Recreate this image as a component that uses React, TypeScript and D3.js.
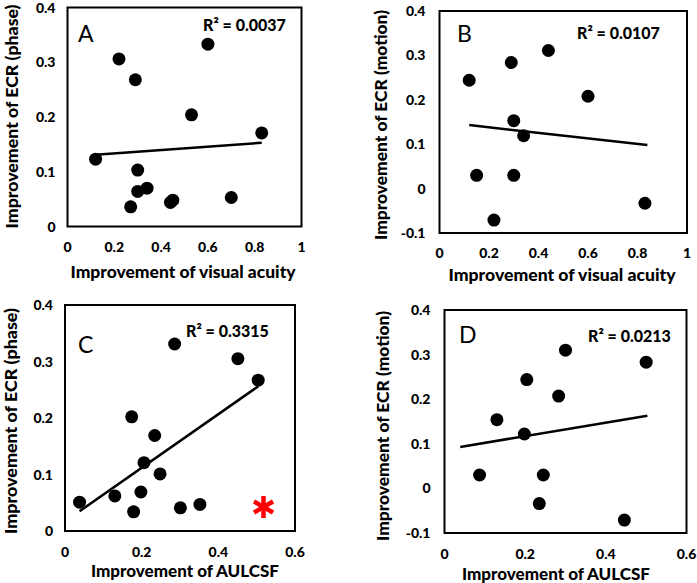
import React from "react";
import * as d3 from "d3";

// ---------- data ----------
const aX = [0.12, 0.22, 0.29, 0.27, 0.3, 0.3, 0.34, 0.44, 0.45, 0.53, 0.6, 0.7, 0.83];
const aY = [0.123, 0.306, 0.268, 0.036, 0.103, 0.064, 0.07, 0.044, 0.048, 0.204, 0.333, 0.053, 0.171];
const aLine = [0.12, 0.131, 0.83, 0.153];

const bX = [0.12, 0.15, 0.22, 0.29, 0.3, 0.3, 0.34, 0.44, 0.6, 0.83];
const bY = [0.244, 0.03, -0.071, 0.284, 0.153, 0.03, 0.119, 0.311, 0.208, -0.033];
const bLine = [0.12, 0.143, 0.84, 0.098];

const cX = [0.038, 0.13, 0.174, 0.179, 0.198, 0.206, 0.234, 0.248, 0.286, 0.301, 0.352, 0.451, 0.504];
const cY = [0.051, 0.062, 0.202, 0.034, 0.069, 0.121, 0.169, 0.101, 0.331, 0.041, 0.047, 0.305, 0.267];
const cLine = [0.038, 0.035, 0.504, 0.256];

const dX = [0.087, 0.13, 0.198, 0.204, 0.235, 0.245, 0.283, 0.3, 0.446, 0.5];
const dY = [0.03, 0.154, 0.122, 0.244, -0.034, 0.03, 0.207, 0.31, -0.071, 0.283];
const dLine = [0.039, 0.093, 0.503, 0.163];

const ticksVA = [0, 0.2, 0.4, 0.6, 0.8, 1];
const ticksVALabels = ["0", "0.2", "0.4", "0.6", "0.8", "1"];
const ticksAU = [0, 0.2, 0.4, 0.6];
const ticksAULabels = ["0", "0.2", "0.4", "0.6"];
const ticksPhase = [0, 0.1, 0.2, 0.3, 0.4];
const ticksPhaseLabels = ["0", "0.1", "0.2", "0.3", "0.4"];
const ticksMotion = [-0.1, 0, 0.1, 0.2, 0.3, 0.4];
const ticksMotionLabels = ["-0.1", "0", "0.1", "0.2", "0.3", "0.4"];

const FONT = "Lato, 'Open Sans', sans-serif";

type PanelProps = {
  box: [number, number, number, number]; // left, top, right, bottom
  xDom: [number, number];
  yDom: [number, number];
  xs: number[];
  ys: number[];
  line: number[];
  xt: number[];
  xtl: string[];
  yt: number[];
  ytl: string[];
  letter: string;
  letterPos: [number, number];
  r2: string;
  r2Pos: [number, number];
  xTitle: string;
  xTitlePos: [number, number, number];
  yTitle: string;
  yTitlePos: [number, number, number];
  xTickY: number;
  yTickGap: number;
  star?: [number, number];
};

function Panel(p: PanelProps) {
  const [l, t, r, b] = p.box;
  const x = d3.scaleLinear().domain(p.xDom).range([l, r]);
  const y = d3.scaleLinear().domain(p.yDom).range([b, t]);
  const lineGen = d3.line<[number, number]>().x((d) => x(d[0])).y((d) => y(d[1]));
  const pts: [number, number][] = [
    [p.line[0], p.line[1]],
    [p.line[2], p.line[3]],
  ];
  return (
    <g>
      <rect x={l} y={t} width={r - l} height={b - t} fill="none" stroke="#000" strokeWidth={2} />
      {p.xt.map((v, i) => (
        <text key={"xt" + i} x={x(v)} y={p.xTickY} textAnchor="middle" fontSize={14} fontWeight="900" fontFamily={FONT}>
          {p.xtl[i]}
        </text>
      ))}
      {p.yt.map((v, i) => (
        <text key={"yt" + i} x={l - p.yTickGap} y={y(v) + 5} textAnchor="end" fontSize={14} fontWeight="900" fontFamily={FONT}>
          {p.ytl[i]}
        </text>
      ))}
      <path d={lineGen(pts) || ""} stroke="#000" strokeWidth={2.5} fill="none" />
      {p.xs.map((v, i) => (
        <circle key={"c" + i} cx={x(v)} cy={y(p.ys[i])} r={6.5} fill="#000" />
      ))}
      <text x={p.letterPos[0]} y={p.letterPos[1]} fontSize={23} fontFamily={FONT}>
        {p.letter}
      </text>
      <text x={p.r2Pos[0]} y={p.r2Pos[1]} fontSize={16} fontWeight="900" fontFamily={FONT}>
        R² = {p.r2}
      </text>
      <text
        x={p.xTitlePos[0]}
        y={p.xTitlePos[1]}
        textAnchor="middle"
        fontSize={16}
        fontWeight="900"
        fontFamily={FONT}
        textLength={p.xTitlePos[2]}
        lengthAdjust="spacingAndGlyphs"
      >
        {p.xTitle}
      </text>
      <text
        transform={`translate(${p.yTitlePos[0]},${p.yTitlePos[1]}) rotate(-90)`}
        textAnchor="middle"
        fontSize={16}
        fontWeight="900"
        fontFamily={FONT}
        textLength={p.yTitlePos[2]}
        lengthAdjust="spacingAndGlyphs"
      >
        {p.yTitle}
      </text>
      {p.star && (
        <g transform={`translate(${p.star[0]},${p.star[1]})`} stroke="#ff0000" strokeWidth={4.5} strokeLinecap="butt">
          {[90, 30, -30].map((a) => {
            const rad = (a * Math.PI) / 180;
            const L = 11;
            return (
              <line
                key={a}
                x1={-L * Math.cos(rad)}
                y1={-L * Math.sin(rad)}
                x2={L * Math.cos(rad)}
                y2={L * Math.sin(rad)}
              />
            );
          })}
        </g>
      )}
    </g>
  );
}

export default function App() {
  return (
    <svg width={697} height={583} style={{ position: "absolute", left: 0, top: 0, background: "#fff" }}>
      <Panel
        box={[67.5, 7.5, 301.5, 226.5]}
        xDom={[0, 1]}
        yDom={[0, 0.4]}
        xs={aX}
        ys={aY}
        line={aLine}
        xt={ticksVA}
        xtl={ticksVALabels}
        yt={ticksPhase}
        ytl={ticksPhaseLabels}
        letter="A"
        letterPos={[78, 42]}
        r2="0.0037"
        r2Pos={[203, 31]}
        xTitle="Improvement of visual acuity"
        xTitlePos={[183, 278, 225]}
        yTitle="Improvement of ECR (phase)"
        yTitlePos={[18, 116.5, 224]}
        xTickY={252}
        yTickGap={12}
      />
      <Panel
        box={[439.5, 11, 687, 233]}
        xDom={[0, 1]}
        yDom={[-0.1, 0.4]}
        xs={bX}
        ys={bY}
        line={bLine}
        xt={ticksVA}
        xtl={ticksVALabels}
        yt={ticksMotion}
        ytl={ticksMotionLabels}
        letter="B"
        letterPos={[457, 42]}
        r2="0.0107"
        r2Pos={[577, 39]}
        xTitle="Improvement of visual acuity"
        xTitlePos={[562, 281, 227]}
        yTitle="Improvement of ECR (motion)"
        yTitlePos={[387, 125, 230]}
        xTickY={258}
        yTickGap={14}
      />
      <Panel
        box={[65, 305, 295, 531]}
        xDom={[0, 0.6]}
        yDom={[0, 0.4]}
        xs={cX}
        ys={cY}
        line={cLine}
        xt={ticksAU}
        xtl={ticksAULabels}
        yt={ticksPhase}
        ytl={ticksPhaseLabels}
        letter="C"
        letterPos={[78, 353]}
        r2="0.3315"
        r2Pos={[186, 337]}
        xTitle="Improvement of AULCSF"
        xTitlePos={[185, 577, 188]}
        yTitle="Improvement of ECR (phase)"
        yTitlePos={[17, 421, 226]}
        xTickY={557}
        yTickGap={12}
        star={[263.5, 507]}
      />
      <Panel
        box={[444.5, 310, 686.5, 533]}
        xDom={[0, 0.6]}
        yDom={[-0.1, 0.4]}
        xs={dX}
        ys={dY}
        line={dLine}
        xt={ticksAU}
        xtl={ticksAULabels}
        yt={ticksMotion}
        ytl={ticksMotionLabels}
        letter="D"
        letterPos={[459, 343]}
        r2="0.0213"
        r2Pos={[588, 342]}
        xTitle="Improvement of AULCSF"
        xTitlePos={[556, 580, 188]}
        yTitle="Improvement of ECR (motion)"
        yTitlePos={[389, 426, 230]}
        xTickY={559}
        yTickGap={14}
      />
    </svg>
  );
}
